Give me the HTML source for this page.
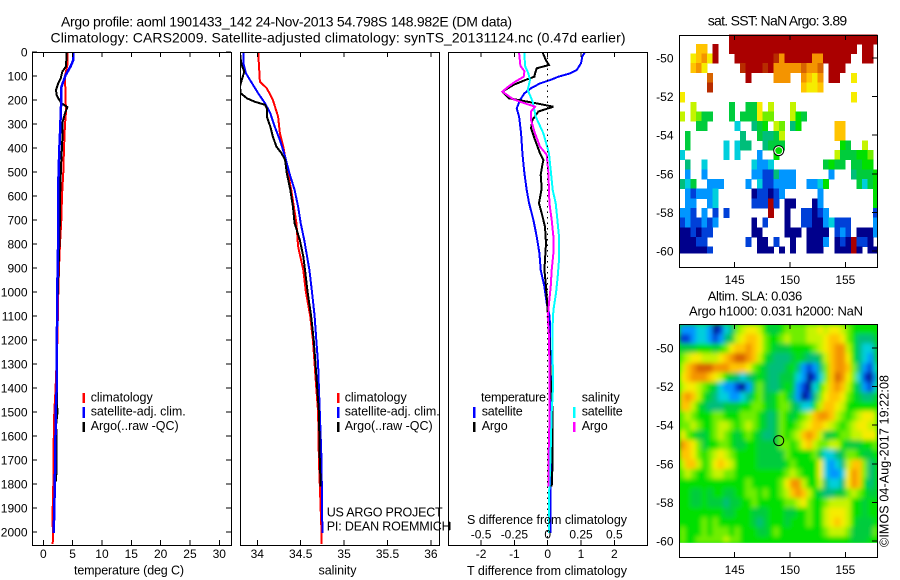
<!DOCTYPE html>
<html lang="en">
<head>
<meta charset="utf-8">
<title>Argo profile 1901433_142</title>
<style>
html,body{margin:0;padding:0;background:#fff}
svg{display:block}
text{font-family:"Liberation Sans",sans-serif;font-size:12px;fill:#000}
.ttl{font-size:14px}
.leg{font-size:12.5px}
.crisp{shape-rendering:crispEdges}
</style>
</head>
<body>
<svg id="chart" xmlns="http://www.w3.org/2000/svg" width="900" height="580" viewBox="0 0 900 580">
  <rect x="0" y="0" width="900" height="580" fill="#fff"/>
  <text class="ttl" x="61" y="26.7" textLength="451">Argo profile: aoml 1901433_142 24-Nov-2013 54.798S 148.982E (DM data)</text>
  <text class="ttl" x="50.5" y="42.7" textLength="575">Climatology: CARS2009. Satellite-adjusted climatology: synTS_20131124.nc (0.47d earlier)</text>
  <text class="ttl" x="707.7" y="25.7" textLength="139.5">sat. SST: NaN Argo: 3.89</text>
  <text x="707.7" y="300.7" textLength="94.5" style="font-size:13px">Altim. SLA: 0.036</text>
  <text x="689" y="315.7" textLength="174" style="font-size:13px">Argo h1000: 0.031 h2000: NaN</text>
  <defs>
    <clipPath id="clip-temp"><rect x="32" y="52" width="199" height="493"/></clipPath>
    <clipPath id="clip-sal"><rect x="240" y="52" width="199" height="493"/></clipPath>
    <clipPath id="clip-diff"><rect x="448" y="52" width="199" height="493"/></clipPath>
    <clipPath id="clip-sla"><rect x="679" y="324" width="198" height="218.7"/></clipPath>
    <filter id="sla-blur" filterUnits="userSpaceOnUse" x="660" y="305" width="240" height="260">
      <feGaussianBlur stdDeviation="2.4"/>
    </filter>
  </defs>
  <g id="layer-maps"></g>
  <g clip-path="url(#clip-sla)">
    <rect x="679" y="324" width="198" height="219" fill="#00e000"/>
    <g id="layer-sla" filter="url(#sla-blur)"></g>
  </g>
  <g id="layer-series"></g>
  <g id="layer-axes"></g>
  <text class="leg" x="90.7" y="401.7" textLength="62">climatology</text>
  <text class="leg" x="90.7" y="415.7" textLength="95">satellite-adj. clim.</text>
  <text class="leg" x="90.7" y="430" textLength="88">Argo(..raw -QC)</text>
  <text class="leg" x="344.7" y="401.7" textLength="62">climatology</text>
  <text class="leg" x="344.7" y="415.7" textLength="95">satellite-adj. clim.</text>
  <text class="leg" x="344.7" y="430" textLength="88">Argo(..raw -QC)</text>
  <text class="leg" x="326.7" y="516.7" textLength="116">US ARGO PROJECT</text>
  <text class="leg" x="326.7" y="530.7" textLength="124">PI: DEAN ROEMMICH</text>
  <text class="leg" x="481" y="401.7" textLength="65">temperature</text>
  <text class="leg" x="481.7" y="415.7" textLength="41">satellite</text>
  <text class="leg" x="481.7" y="430" textLength="26">Argo</text>
  <text class="leg" x="581.7" y="401.7" textLength="38">salinity</text>
  <text class="leg" x="581.7" y="415.7" textLength="41">satellite</text>
  <text class="leg" x="581.7" y="430" textLength="26">Argo</text>
  <text class="leg" x="467" y="524" textLength="160">S difference from climatology</text>
  <text class="leg" x="467" y="575" textLength="160">T difference from climatology</text>
  <text class="leg" x="74" y="574.5" textLength="110">temperature (deg C)</text>
  <text class="leg" x="318.5" y="574.5" textLength="38">salinity</text>
  <text transform="translate(888.5 547) rotate(-90)" textLength="172" style="font-size:12.5px">©IMOS 04-Aug-2017 19:22:08</text>
</svg>
<script>
// ---- tick labels ----
const depthTicks = [0,100,200,300,400,500,600,700,800,900,1000,1100,1200,1300,1400,1500,1600,1700,1800,1900,2000];
const tempTicks = [0,5,10,15,20,25,30];
const salTicks = [34,34.5,35,35.5,36];
const diffTTicks = [-2,-1,0,1,2];
const diffSTicks = [-0.5,-0.25,0,0.25,0.5];
const latTicks = [-50,-52,-54,-56,-58,-60];
const lonTicks = [145,150,155];

// ---- temperature profiles ----
const climTempDepth = [0,50,100,200,250,300,400,500,600,700,800,900,1000,1200,1400,1500,1700,1800,1950,2000,2050];
const climTempValue = [4.15,4.15,3.7,3.8,3.87,3.7,3.53,3.41,3.19,3.07,2.85,2.68,2.56,2.4,2.1,1.88,1.71,1.71,1.55,1.65,1.6];
const satTempDepth = [0,33,60,96,130,150,228,340,408,547,756,894,990,1200,1400,1500,1700,1900,2005];
const satTempValue = [5.12,5.12,4.66,3.82,3.3,3.02,3.02,2.85,2.73,2.56,2.56,2.45,2.39,2.32,2.28,2.11,2.05,1.88,1.77];
const argoTempDepth = [0,60,82,110,130,158,180,200,214,230,255,297,367,478,617,756,894,1100,1300,1450,1500,1550,1655,1790];
const argoTempValue = [3.98,3.87,3.24,2.96,2.56,2.16,2.28,2.73,3.13,4.1,3.7,3.24,3.24,3.02,2.85,2.79,2.6,2.35,2.28,2.3,2.42,2.2,2.25,2.2];

// ---- salinity profiles ----
const climSalDepth = [0,124,151,200,269,339,394,478,574,713,810,908,1000,1100,1200,1300,1400,1500,1700,2000,2050];
const climSalValue = [34.01,34.03,34.11,34.18,34.24,34.26,34.3,34.34,34.39,34.45,34.47,34.53,34.56,34.61,34.64,34.66,34.68,34.7,34.71,34.74,34.74];
const satSalDepth = [0,47,89,131,172,214,255,311,367,436,505,574,644,713,783,908,1000,1100,1200,1300,1400,1500,1700,2005];
const satSalValue = [33.84,33.84,33.87,33.94,34.01,34.09,34.15,34.2,34.26,34.32,34.37,34.43,34.47,34.5,34.54,34.6,34.63,34.66,34.68,34.7,34.71,34.72,34.74,34.75];
const argoSalDepth = [0,33,54,82,117,144,172,193,207,220,234,269,311,353,394,422,450,505,574,644,713,783,852,908,1000,1100,1200,1300,1400,1500,1700,1810];
const argoSalValue = [33.8,33.81,33.82,33.85,33.82,33.8,33.81,33.88,33.97,34.09,34.11,34.11,34.15,34.18,34.22,34.28,34.32,34.34,34.38,34.41,34.43,34.49,34.53,34.55,34.58,34.62,34.65,34.67,34.69,34.71,34.72,34.73];

// ---- differences from climatology ----
const satDTDepth = [0,19,47,75,89,103,117,131,151,172,200,235,269,339,422,505,575,630,700,769,838,908,978,1047,1103,1186,1400,2005];
const satDTValue = [1.12,1.04,1,0.87,0.67,0.32,0.07,-0.23,-0.5,-0.7,-0.83,-0.93,-0.86,-0.8,-0.76,-0.7,-0.63,-0.56,-0.43,-0.33,-0.25,-0.21,-0.1,-0.03,0.06,0.07,0.1,0.08];
const argoDTDepth = [0,19,33,54,68,89,103,117,137,165,193,214,228,248,283,318,366,422,450,470,512,568,630,672,728,797,908,964,1019,1061,1200,1400,1500,1700,1810];
const argoDTValue = [-0.16,-0.1,-0.06,0.04,-0.33,-0.38,-0.4,-0.68,-1.03,-1.36,-1.16,-0.33,0.17,-0.28,-0.46,-0.5,-0.38,-0.23,-0.13,-0.16,-0.21,-0.18,-0.26,-0.18,-0.08,-0.05,-0.1,-0.06,-0.03,-0.01,0.05,0.1,0.15,0.15,0.12];
const satDSDepth = [0,58,89,117,158,207,269,339,422,505,575,630,700,769,866,936,1005,1075,1158,1400,1500,1700,1850,2005];
const satDSValue = [-0.175,-0.17,-0.145,-0.1325,-0.15,-0.1125,-0.09,-0.0325,0.01,0.025,0.0375,0.06,0.0725,0.085,0.085,0.075,0.0625,0.0425,0.035,0.04,0.03,0.02,0.01,0.01];
const argoDSDepth = [0,58,80,103,124,144,165,183,197,214,228,248,283,339,394,428,505,575,630,700,769,838,908,978,1047,1103,1186,1400,1500,1700,1810];
const argoDSValue = [-0.215,-0.205,-0.175,-0.18,-0.245,-0.295,-0.34,-0.295,-0.2575,-0.17,-0.095,-0.125,-0.125,-0.095,-0.0575,-0.0075,0.005,0.01,0.0125,0.03,0.0425,0.0425,0.03,0.0225,0.01,0,0.01,0.015,0.015,0.005,0.005];

// ---- map grids: 0.5 degree cells, top row first, '.' = no data ----
const sstRows = [
".........eeeeeeeeeeeeeeeeeeeeeeeeeee",
"...aa.e..eeeeeeeeeeeeeeeeeeeeeee.ee.",
"..9ab9e...eeeeeeedbeeeeebbeeeee..ee.",
"..ab9......deeedebbbbbcbbc.eee......",
".....c......e....bbb..ba9b.ee..9....",
".....d................a99a..........",
"9..............................9....",
"..8......5..559.8...8...............",
"8.8755...5.555977...865.............",
"...55.....3..456.87.46......aa......",
".5.........4..54458.........aa......",
".5......3.344..4555..........65..8..",
"3.......3.3...2..6..........8555667.",
".4..3........3223.........5655.5566.",
".2..2........22114222......2...45556",
"435..222....2.3112222..2236.....5356",
".212223......011012......2.........6",
".22..23......111e1.00...02.........6",
"221.2.1.1.......e..0..11012........1",
"1211212......0.1...0..110023111....2",
"001011.......00....000.0000.121.0002",
"00011.......1.00.1..0..0002.010e110.",
"000001........000.0.0..000..000e0.00"
];
const slaRows = [
"222332013478998655677778898998766666",
"112332124589aa9766787778889aa9764445",
"5556665679aaba9765556666789abb864334",
"78998889abccba8654445654458abb964324",
"8abcccbbbaaa976544456421247abba74213",
"9abbba986543456544555320137acb973102",
"899876532210257544565210368aba864213",
"aba865433223467556764201479aa9765445",
"aa865444555667765677543368aa98666666",
"787666776667776545765678abba87678998",
"778766788767876545766789aa9876789988",
"9765567876567654457678aba85567788999",
"ba975667765566555577679a877886555667",
"aa9767898766665555576666753345776556",
"8aa8679a9866665555567666693234 8aa745".replace(" ",""),
"787667887766666666678766693223 9ba745".replace(" ",""),
"666666666666766666 79bb86684334 9ba645".replace(/ /g,""),
"665565665566776766 78aba8654455 787655".replace(/ /g,""),
"665565554556676666 677897667888 866566".replace(/ /g,""),
"666666665566655566 655667668999 866566".replace(/ /g,""),
"666676766666654566 656667668 9a9 865556".replace(/ /g,""),
"766676777676665567 666666667888 755557".replace(/ /g,""),
"766777778776666666 666666666666 655566".replace(/ /g,"")
];
const cellColors = {
  "0":"#00008c","1":"#0040d8","2":"#0096ff","3":"#00cfdc","4":"#00be7a","5":"#00cc3c",
  "6":"#00e000","7":"#70ee00","8":"#c4f400","9":"#f6ec00","a":"#ffc400","b":"#f49400",
  "c":"#d86400","d":"#b82c00","e":"#aa0000"
};

const NS = "http://www.w3.org/2000/svg";
const layerAxes = document.getElementById("layer-axes");
const layerSeries = document.getElementById("layer-series");
const layerMaps = document.getElementById("layer-maps");
const layerSla = document.getElementById("layer-sla");

// axis functions
const yDepth = d => 52 + 0.24 * d;
const xTemp = t => 43.3 + 5.867 * t;
const xSal = s => 257.3 + 86.8 * (s - 34);
const xDiffT = t => 547.7 + 33.3 * t;
const xDiffS = s => 547.7 + 133.3 * s;
const xLon = lon => 679.3 + 11.07 * (lon - 140);
const ySst = lat => 58 + 19.3 * (-50 - lat);
const ySla = lat => 348 + 19.3 * (-50 - lat);

function mk(tag, attrs, parent) {
  const el = document.createElementNS(NS, tag);
  for (const k in attrs) el.setAttribute(k, attrs[k]);
  parent.appendChild(el);
  return el;
}
function seg(x1, y1, x2, y2, name, color, width) {
  const el = mk("line", {x1, y1, x2, y2, stroke: color || "#000", "stroke-width": width || 1, class: "crisp"}, layerAxes);
  
  
  return el;
}
function label(x, y, str, anchor, name) {
  const el = mk("text", {x, y, "text-anchor": anchor}, layerAxes);
  el.textContent = str;
  
  
  return el;
}
function frame(x, y, w, h, name) {
  const el = mk("rect", {x: x + 0.5, y: y + 0.5, width: w, height: h, fill: "none", stroke: "#000", "stroke-width": 1.3, class: "crisp"}, layerAxes);
  
  
  return el;
}
function series(depths, values, xf, color, width, clip, name) {
  const pts = depths.map((d, i) => xf(values[i]).toFixed(1) + "," + yDepth(d).toFixed(1)).join(" ");
  const el = mk("polyline", {points: pts, fill: "none", stroke: color, "stroke-width": width, "stroke-linejoin": "miter", class: "crisp", "clip-path": "url(#" + clip + ")"}, layerSeries);
  
  
  return el;
}
function legendBar(x, y1, y2, color, name) {
  const el = seg(x, y1, x, y2, name, color, 2.5);
  return el;
}

// ---- panel frames ----
frame(32, 52, 199, 493, "temperature-panel-frame");
frame(240, 52, 199, 493, "salinity-panel-frame");
frame(448, 52, 199, 493, "difference-panel-frame");
frame(679, 35, 198, 232, "sst-map-frame");
frame(679, 324, 198, 233, "sla-map-frame");

// ---- depth axis ----
depthTicks.forEach(d => {
  label(27.5, yDepth(d) + 4.5, String(d), "end", "depth-tick-label");
  seg(32, yDepth(d), 37, yDepth(d), "depth-tick-left");
  seg(226, yDepth(d), 231, yDepth(d), "depth-tick-right");
});

// ---- bottom axes ----
tempTicks.forEach(t => {
  label(xTemp(t), 558, String(t), "middle", "temperature-tick-label");
  seg(xTemp(t), 52, xTemp(t), 57, "temperature-tick-top");
  seg(xTemp(t), 540, xTemp(t), 545, "temperature-tick-bottom");
});
salTicks.forEach(s => {
  label(xSal(s), 558, String(s), "middle", "salinity-tick-label");
  seg(xSal(s), 52, xSal(s), 57, "salinity-tick-top");
  seg(xSal(s), 540, xSal(s), 545, "salinity-tick-bottom");
});
diffTTicks.forEach(t => {
  label(xDiffT(t), 558, String(t), "middle", "t-difference-tick-label");
  seg(xDiffT(t), 52, xDiffT(t), 57, "t-difference-tick-top");
  seg(xDiffT(t), 540, xDiffT(t), 545, "t-difference-tick-bottom");
});
diffSTicks.forEach(s => {
  label(xDiffS(s), 538.3, String(s), "middle", "s-difference-tick-label");
});

// ---- zero line and small error bar of the difference panel ----
const zeroLine = seg(xDiffT(0), 52, xDiffT(0), 545, "zero-difference-line", "#000", 1);
zeroLine.setAttribute("stroke-dasharray", "1.5 4");
seg(448, 526, 450, 526, "error-bar-stem");
seg(450, 522, 450, 530, "error-bar-cap");

// ---- map cells ----
function drawMap(rows, yf, parent, name) {
  const bottom = yf(-60.1);
  rows.forEach((row, r) => {
    const latTop = -48.77 - 0.5 * r;
    const y1 = yf(latTop);
    const y2 = Math.min(yf(latTop - 0.5), bottom);
    for (let c = 0; c < row.length; c++) {
      const ch = row[c];
      if (ch === ".") continue;
      const x1 = xLon(140 + 0.5 * c);
      const x2 = Math.min(xLon(140.5 + 0.5 * c), 877);
      const cell = mk("rect", {x: x1.toFixed(1), y: y1.toFixed(1), width: (x2 - x1 + 0.4).toFixed(1), height: (y2 - y1 + 0.4).toFixed(1), fill: cellColors[ch], class: "crisp"}, parent);
      
      
    }
  });
}
drawMap(sstRows, ySst, layerMaps, "sst-cell");
drawMap(slaRows, ySla, layerSla, "sla-cell");

// ---- map ticks ----
[[ySst, 35, 267, "sst"], [ySla, 324, 557, "sla"]].forEach(([yf, top, bot, key]) => {
  latTicks.forEach(lat => {
    label(673.5, yf(lat) + 4.5, String(lat), "end", key + "-latitude-tick-label");
    seg(872, yf(lat), 877, yf(lat), key + "-latitude-tick");
  });
  lonTicks.forEach(lon => {
    label(xLon(lon), bot + 17, String(lon), "middle", key + "-longitude-tick-label");
    seg(xLon(lon), top, xLon(lon), top + 5, key + "-longitude-tick-top");
    seg(xLon(lon), bot - 5, xLon(lon), bot, key + "-longitude-tick-bottom");
  });
});

// ---- Argo position markers ----
const argoLon = 148.982;
const argoLat = -54.798;
const sstRing = mk("circle", {cx: xLon(argoLon), cy: ySst(argoLat), r: 5, fill: "#fff", stroke: "#000", "stroke-width": 1}, layerAxes);


const sstDot = mk("circle", {cx: xLon(argoLon), cy: ySst(argoLat), r: 3.5, fill: "#00e000"}, layerAxes);


const slaRing = mk("circle", {cx: xLon(argoLon), cy: ySla(argoLat), r: 5, fill: "none", stroke: "#000", "stroke-width": 1}, layerAxes);



// ---- series ----
series(climTempDepth, climTempValue, xTemp, "#f00", 2, "clip-temp", "temperature-climatology-line");
series(argoTempDepth, argoTempValue, xTemp, "#000", 2, "clip-temp", "temperature-argo-line");
series(satTempDepth, satTempValue, xTemp, "#00f", 2.5, "clip-temp", "temperature-satellite-line");
series(climSalDepth, climSalValue, xSal, "#f00", 2, "clip-sal", "salinity-climatology-line");
series(satSalDepth, satSalValue, xSal, "#00f", 2, "clip-sal", "salinity-satellite-line");
series(argoSalDepth, argoSalValue, xSal, "#000", 2, "clip-sal", "salinity-argo-line");
series(satDTDepth, satDTValue, xDiffT, "#00f", 2, "clip-diff", "difference-t-satellite-line");
series(argoDTDepth, argoDTValue, xDiffT, "#000", 2, "clip-diff", "difference-t-argo-line");
series(satDSDepth, satDSValue, xDiffS, "#0ff", 2, "clip-diff", "difference-s-satellite-line");
series(argoDSDepth, argoDSValue, xDiffS, "#f0f", 2, "clip-diff", "difference-s-argo-line");

// ---- legend bars ----
legendBar(83.8, 393, 403, "#f00", "temp-legend-bar-climatology");
legendBar(83.8, 407, 418, "#00f", "temp-legend-bar-satellite");
legendBar(83.8, 422, 432, "#000", "temp-legend-bar-argo");
legendBar(338, 393, 403, "#f00", "sal-legend-bar-climatology");
legendBar(338, 407, 418, "#00f", "sal-legend-bar-satellite");
legendBar(338, 422, 432, "#000", "sal-legend-bar-argo");
legendBar(474, 407, 418, "#00f", "diff-legend-bar-temp-satellite");
legendBar(474, 422, 432, "#000", "diff-legend-bar-temp-argo");
legendBar(574, 407, 418, "#0ff", "diff-legend-bar-sal-satellite");
legendBar(574, 422, 432, "#f0f", "diff-legend-bar-sal-argo");
</script>
</body>
</html>
